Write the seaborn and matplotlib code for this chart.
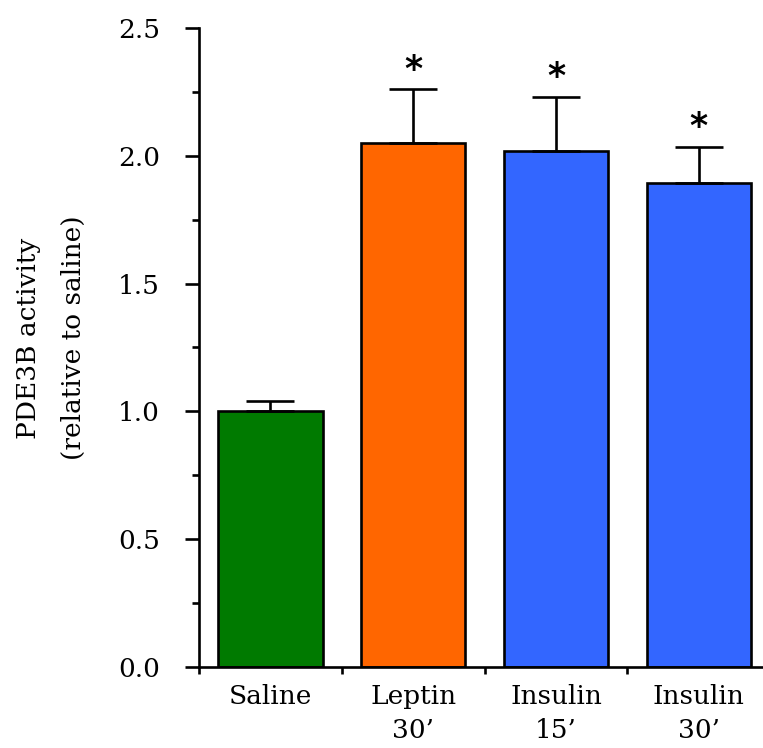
import matplotlib
matplotlib.use("Agg")

import matplotlib.pyplot as plt
import seaborn as sns
from matplotlib.ticker import MultipleLocator, FixedLocator


# ---------------------------------------------------------
# Data
# ---------------------------------------------------------

groups = ["Saline", "Leptin\n30\u2019", "Insulin\n15\u2019", "Insulin\n30\u2019"]
activity = [1.00, 2.05, 2.02, 1.895]
sem = [0.04, 0.21, 0.21, 0.14]
significant = [False, True, True, True]
colors = ["#007A00", "#FF6600", "#3366FF", "#3366FF"]


# ---------------------------------------------------------
# Plot Style
# ---------------------------------------------------------

sns.set_style("ticks", {
    "axes.edgecolor": "black",
    "text.color": "black",
    "axes.labelcolor": "black",
    "xtick.color": "black",
    "ytick.color": "black",
})
plt.rcParams["font.family"] = ["DejaVu Serif"]


# ---------------------------------------------------------
# Bar Chart
# ---------------------------------------------------------

fig = plt.figure(figsize=(7.63, 7.48), dpi=100)
ax = fig.add_axes([0.2608, 0.1083, 0.7392, 0.8543])

sns.barplot(
    x=groups,
    y=activity,
    hue=groups,
    palette=colors,
    saturation=1,
    legend=False,
    width=0.73,
    edgecolor="black",
    linewidth=1.9,
    ax=ax
)

positions = list(range(len(groups)))

ax.errorbar(
    positions,
    activity,
    yerr=[[0] * len(sem), sem],
    fmt="none",
    ecolor="black",
    elinewidth=1.9,
    capsize=17,
    capthick=1.9,
    zorder=1
)

for pos, value, err, star in zip(positions, activity, sem, significant):
    if star:
        ax.annotate(
            "*",
            xy=(pos, value + err),
            xytext=(0, 7),
            textcoords="offset points",
            ha="center",
            va="baseline",
            fontsize=25,
            fontweight="bold",
            family="DejaVu Sans"
        )

# axes and ticks
ax.set_xlim(-0.5, 3.45)
ax.set_ylim(0, 2.5)

ax.yaxis.set_major_locator(MultipleLocator(0.5))
ax.yaxis.set_minor_locator(MultipleLocator(0.25))
ax.set_yticklabels([f"{v:.1f}" for v in ax.get_yticks()])

ax.xaxis.set_minor_locator(FixedLocator([-0.5, 0.5, 1.5, 2.5, 3.5]))

ax.tick_params(axis="y", which="major", length=10, width=1.9,
               pad=18, labelsize=19, direction="out")
ax.tick_params(axis="y", which="minor", length=5, width=1.9,
               direction="out")
ax.tick_params(axis="x", which="major", length=0, pad=12, labelsize=19)
ax.tick_params(axis="x", which="minor", length=5, width=1.9,
               direction="out")

for label in ax.get_xticklabels():
    label.set_linespacing(1.45)

sns.despine(ax=ax)
for side in ["left", "bottom"]:
    ax.spines[side].set_linewidth(1.9)

ax.set_ylabel(
    "PDE3B activity\n(relative to saline)",
    fontsize=19,
    linespacing=2.0,
    va="center"
)
ax.yaxis.set_label_coords(-0.262, 0.515)

fig.savefig("out.png", dpi=100)
plt.close(fig)
